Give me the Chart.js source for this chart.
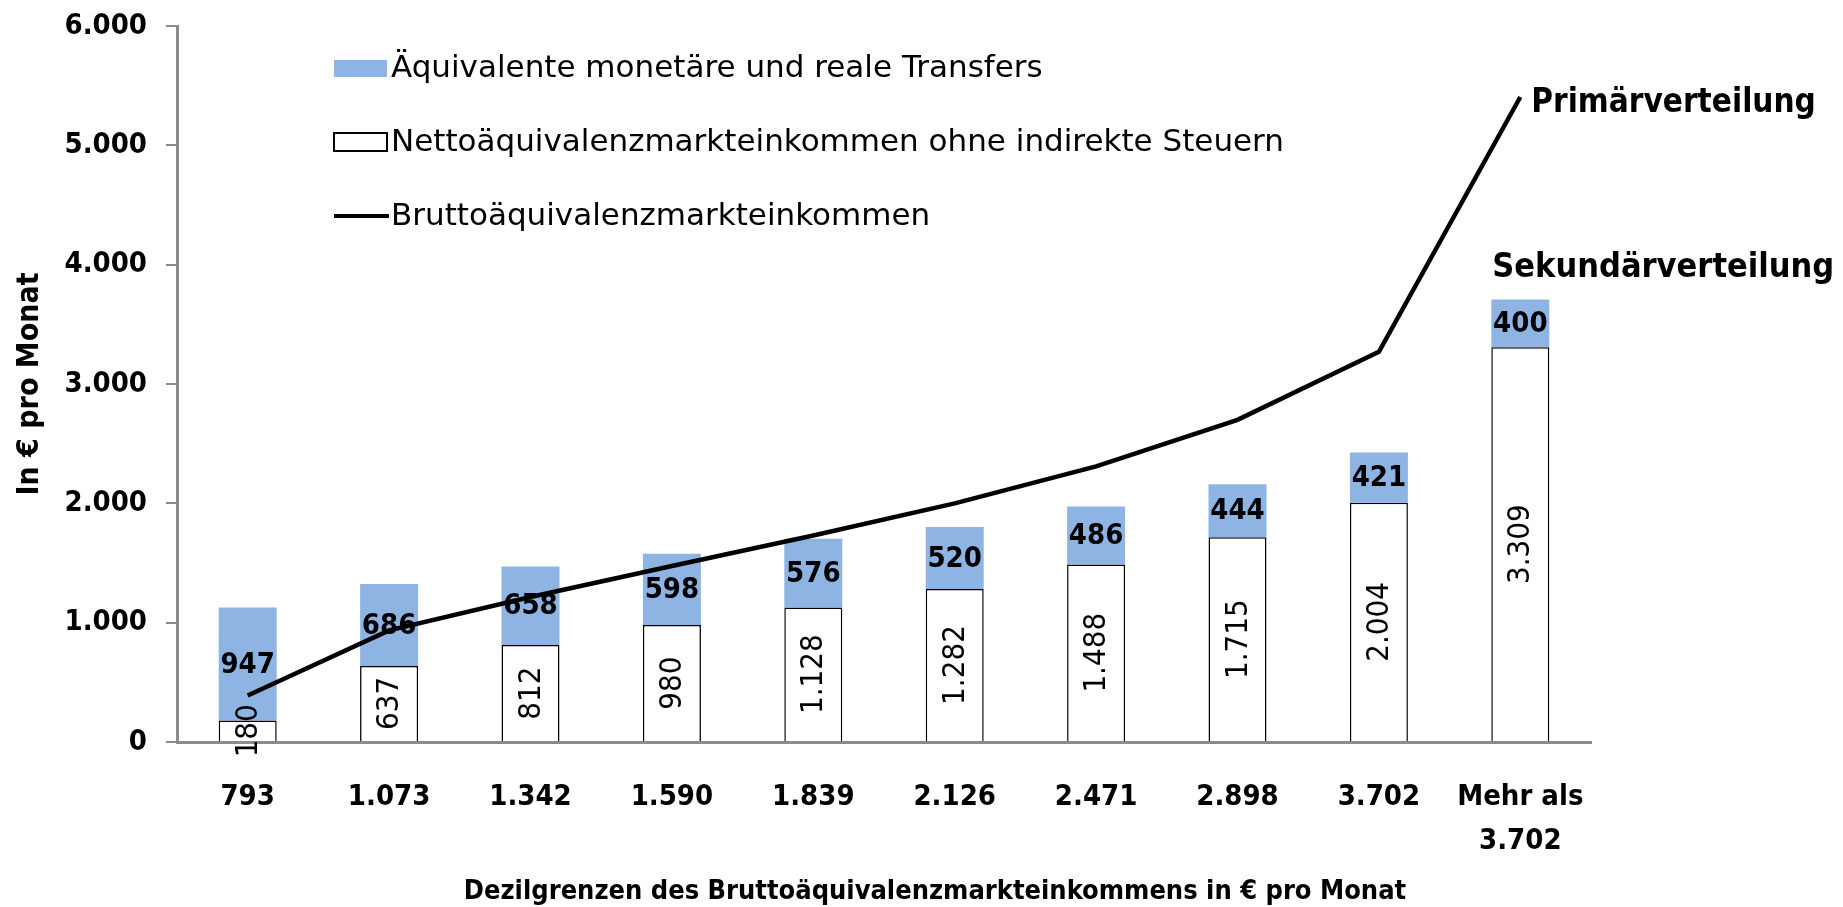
<!DOCTYPE html>
<html>
<head>
<meta charset="utf-8">
<script src="https://cdn.jsdelivr.net/npm/chart.js@4.4.1/dist/chart.umd.min.js"></script>
<style>
  html, body { margin: 0; padding: 0; background: #fff; }
  #wrap { width: 1843px; height: 907px; }
</style>
</head>
<body>
<div id="wrap"><canvas id="chart"></canvas></div>
<script>
const categories = ['793', '1.073', '1.342', '1.590', '1.839', '2.126', '2.471', '2.898', '3.702', ['Mehr als', '3.702']];
const nettoValues = [180, 637, 812, 980, 1128, 1282, 1488, 1715, 2004, 3309];
const transferValues = [947, 686, 658, 598, 576, 520, 486, 444, 421, 400];
const bruttoValues = [390, 935, 1215, 1475, 1730, 2000, 2310, 2700, 3270, 5405];
const yTicks = [0, 1000, 2000, 3000, 4000, 5000, 6000];

const seriesNames = [
  'Äquivalente monetäre und reale Transfers',
  'Nettoäquivalenzmarkteinkommen ohne indirekte Steuern',
  'Bruttoäquivalenzmarkteinkommen'
];

const BLUE = '#8db4e2';
const GREY = '#8c8c8c';
const FONT = '"DejaVu Sans Condensed", "DejaVu Sans", sans-serif';
const WIDE = '"DejaVu Sans", sans-serif';

// 1234 -> "1.234"
const fmt = v => String(v).replace(/\B(?=(\d{3})+(?!\d))/g, '.');

// value labels inside the bar segments
const barLabels = {
  id: 'barLabels',
  beforeDatasetDraw(chart, args) {
    if (args.index !== 0) return; // draw just before the line
    const ctx = chart.ctx;
    ctx.save();
    ctx.fillStyle = '#000';
    ctx.textAlign = 'center';
    ctx.textBaseline = 'middle';

    ctx.font = 'bold 29px ' + FONT;
    chart.getDatasetMeta(2).data.forEach((bar, i) => {
      ctx.fillText(fmt(transferValues[i]), bar.x, (bar.y + bar.base) / 2 + 1);
    });

    ctx.font = '31px ' + FONT;
    chart.getDatasetMeta(1).data.forEach((bar, i) => {
      ctx.save();
      ctx.translate(bar.x + 1, (bar.y + bar.base) / 2);
      ctx.rotate(-Math.PI / 2);
      ctx.fillText(fmt(nettoValues[i]), 0, 0);
      ctx.restore();
    });
    ctx.restore();
  }
};

// legend inside the plot, annotations, x title
const extras = {
  id: 'extras',
  afterDraw(chart) {
    const ctx = chart.ctx;
    ctx.save();

    // legend
    const lx = 334, rows = [68, 142, 216];
    ctx.fillStyle = BLUE;
    ctx.fillRect(lx, rows[0] - 8, 53, 17);
    ctx.fillStyle = '#fff';
    ctx.strokeStyle = '#000';
    ctx.lineWidth = 2;
    ctx.fillRect(lx, rows[1] - 9, 53, 18);
    ctx.strokeRect(lx, rows[1] - 9, 53, 18);
    ctx.lineWidth = 4;
    ctx.beginPath();
    ctx.moveTo(lx, rows[2]);
    ctx.lineTo(lx + 55, rows[2]);
    ctx.stroke();

    ctx.fillStyle = '#000';
    ctx.textAlign = 'left';
    ctx.textBaseline = 'middle';
    ctx.font = '31px ' + WIDE;
    seriesNames.forEach((name, i) => {
      ctx.fillText(name, lx + 57, rows[i] + 1);
    });

    // annotations
    ctx.textBaseline = 'alphabetic';
    const linePts = chart.getDatasetMeta(0).data;
    const lastPt = linePts[linePts.length - 1];
    ctx.font = 'bold 33px ' + FONT;
    ctx.fillText('Primärverteilung', lastPt.x + 11, lastPt.y + 15);
    const bars = chart.getDatasetMeta(2).data;
    const lastBar = bars[bars.length - 1];
    ctx.font = 'bold 34px ' + FONT;
    ctx.fillText('Sekundärverteilung', lastBar.x - lastBar.width / 2 + 1, lastBar.y - 22);

    // x axis title
    ctx.textAlign = 'center';
    ctx.font = 'bold 27px ' + FONT;
    ctx.fillText('Dezilgrenzen des Bruttoäquivalenzmarkteinkommens in € pro Monat', 935, 899);

    ctx.restore();
  }
};

new Chart(document.getElementById('chart'), {
  type: 'bar',
  data: {
    labels: categories,
    datasets: [
      {
        type: 'line',
        label: seriesNames[2],
        data: bruttoValues,
        borderColor: '#000',
        borderWidth: 4.5,
        pointRadius: 0,
        tension: 0,
        stack: 'brutto',
        order: 0
      },
      {
        label: seriesNames[1],
        data: nettoValues,
        backgroundColor: '#fff',
        borderColor: '#000',
        borderWidth: 1.5,
        stack: 'decile',
        order: 1,
        barPercentage: 0.41,
        categoryPercentage: 1
      },
      {
        label: seriesNames[0],
        data: transferValues,
        backgroundColor: BLUE,
        borderWidth: 0,
        stack: 'decile',
        order: 1,
        barPercentage: 0.41,
        categoryPercentage: 1
      }
    ]
  },
  options: {
    responsive: true,
    maintainAspectRatio: false,
    animation: false,
    layout: { padding: { top: 26, right: 252, left: 0, bottom: 0 } },
    plugins: {
      legend: { display: false },
      tooltip: { enabled: false }
    },
    scales: {
      x: {
        stacked: true,
        grid: { display: false },
        border: { color: GREY, width: 3 },
        ticks: {
          color: '#000',
          font: { family: FONT, size: 29, weight: 'bold', lineHeight: 1.5 },
          padding: 26,
          maxRotation: 0,
          autoSkip: false
        },
        afterFit(scale) { scale.height = 165; }
      },
      y: {
        stacked: true,
        min: 0,
        max: 6000,
        afterBuildTicks(scale) { scale.ticks = yTicks.map(v => ({ value: v })); },
        ticks: {
          color: '#000',
          font: { family: FONT, size: 29, weight: 'bold' },
          padding: 19,
          callback: v => fmt(v)
        },
        grid: { drawOnChartArea: false, tickLength: 11, color: GREY, lineWidth: 2 },
        border: { color: GREY, width: 3 },
        title: {
          display: true,
          text: 'In € pro Monat',
          color: '#000',
          font: { family: FONT, size: 30, weight: 'bold' },
          padding: { top: 12 }
        },
        afterFit(scale) {
          scale.width = 177;
          scale.paddingTop = 0;
          scale.paddingBottom = 0;
        }
      }
    }
  },
  plugins: [barLabels, extras]
});
</script>
</body>
</html>
